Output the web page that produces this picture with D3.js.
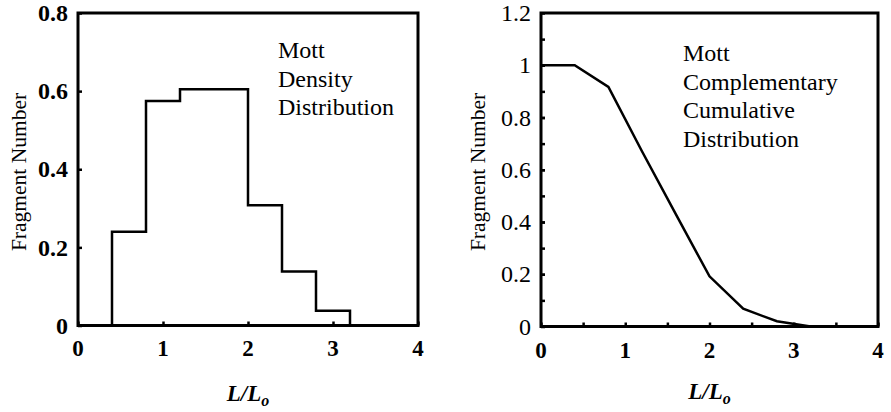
<!DOCTYPE html>
<html>
<head>
<meta charset="utf-8">
<script src="https://cdn.jsdelivr.net/npm/d3@7"></script>
<style>
    body { margin: 0; background: #fff; }
</style>
</head>
<body>
<script>
// histogram bins (left) and complementary cumulative curve (right)
const binEdges = [0.4, 0.8, 1.2, 1.6, 2.0, 2.4, 2.8, 3.2];
const densityValues = [0.24, 0.575, 0.605, 0.605, 0.308, 0.138, 0.038];
const ccdfX = [0, 0.4, 0.8, 1.2, 1.6, 2.0, 2.4, 2.8, 3.2];
const ccdfY = [1, 1, 0.917, 0.67, 0.43, 0.192, 0.068, 0.02, 0];
const leftYTicks = [0, 0.2, 0.4, 0.6, 0.8];
const rightYTicks = [0, 0.2, 0.4, 0.6, 0.8, 1, 1.2];
const xTicks = [0, 1, 2, 3, 4];
const leftNote = ['Mott', 'Density', 'Distribution'];
const rightNote = ['Mott', 'Complementary', 'Cumulative', 'Distribution'];

const svg = d3.select('body').append('svg')
    .attr('width', 891)
    .attr('height', 412);

function label(sel, size, weight, italic) {
    return sel
        .style('font-family', "'Liberation Serif'")
        .style('font-size', size + 'px')
        .style('font-weight', weight || 'normal')
        .style('font-style', italic ? 'italic' : 'normal');
}

function panel(opts) {
    let x = d3.scaleLinear().domain([0, 4]).range([opts.left, opts.right]),
        y = d3.scaleLinear().domain([0, opts.yMax]).range([opts.bottom, opts.top]);

    let g = svg.append('g');

    // minor ticks (inside)
    if (opts.yMinor) {
        g.append('g')
            .attr('transform', `translate(${opts.left},0)`)
            .call(d3.axisLeft(y).tickValues(opts.yMinor).tickSize(-4).tickFormat(''));
    }
    if (opts.xMinor) {
        g.append('g')
            .attr('transform', `translate(0,${opts.bottom})`)
            .call(d3.axisBottom(x).tickValues(opts.xMinor).tickSize(-4).tickFormat(''));
    }

    // main ticks, labels drawn separately as plain text
    g.append('g')
        .attr('transform', `translate(${opts.left},0)`)
        .call(d3.axisLeft(y).tickValues(opts.yTicks).tickSize(-4).tickFormat(''));
    g.append('g')
        .attr('transform', `translate(0,${opts.bottom})`)
        .call(d3.axisBottom(x).tickValues(xTicks).tickSize(-4).tickFormat(''));

    g.selectAll('.tick line').attr('stroke-width', 2.5);
    g.selectAll('.domain').remove();
    g.selectAll('.tick text').remove();

    let fmt = d3.format('~g');
    label(svg.append('g').selectAll('text')
        .data(opts.yTicks)
        .enter()
        .append('text')
        .attr('x', opts.left - 10)
        .attr('y', d => y(d))
        .attr('dy', '0.34em')
        .attr('text-anchor', 'end')
        .text(d => fmt(d)), 24, opts.yBold ? 'bold' : 'normal');

    label(svg.append('g').selectAll('text')
        .data(xTicks)
        .enter()
        .append('text')
        .attr('x', d => x(d))
        .attr('y', opts.bottom + opts.xPad)
        .attr('text-anchor', 'middle')
        .text(d => d), 23, 'bold');

    // frame
    g.append('rect')
        .attr('x', opts.left)
        .attr('y', opts.top)
        .attr('width', opts.right - opts.left)
        .attr('height', opts.bottom - opts.top)
        .attr('fill', 'none')
        .attr('stroke', '#000')
        .attr('stroke-width', 3);

    // axis titles
    label(svg.append('text')
        .attr('transform', `translate(${opts.yTitleX},${opts.yTitleY}) rotate(-90)`)
        .attr('text-anchor', 'middle')
        .text('Fragment Number'), 21.5);

    let xt = label(svg.append('text')
        .attr('x', (opts.left + opts.right) / 2)
        .attr('y', opts.xTitleY)
        .attr('text-anchor', 'middle'), 23, 'bold', true);
    xt.append('tspan').text('L/L');
    xt.append('tspan').style('font-size', '16px').attr('dy', 5).text('o');

    // note
    label(svg.append('g')
        .selectAll('text')
        .data(opts.note)
        .enter()
        .append('text')
        .attr('x', opts.noteX)
        .attr('y', (d, i) => opts.noteY + i * opts.noteStep)
        .text(d => d), 24);

    return {g, x, y};
}

// left: density histogram
let left = panel({
    left: 78, right: 418, top: 13, bottom: 325.5, yMax: 0.8,
    yTicks: leftYTicks, yBold: true, xPad: 30.5,
    yTitleX: 26, yTitleY: 172, xTitleY: 401,
    note: leftNote, noteX: 278, noteY: 58, noteStep: 28.5
});

let bins = densityValues.map((v, i) => ({x0: binEdges[i], x1: binEdges[i + 1], v}));
let stepPts = [[bins[0].x0, 0]];
bins.forEach(b => {
    stepPts.push([b.x0, b.v]);
    stepPts.push([b.x1, b.v]);
});
stepPts.push([bins[bins.length - 1].x1, 0]);

left.g.append('path')
    .datum(stepPts)
    .attr('fill', 'none')
    .attr('stroke', '#000')
    .attr('stroke-width', 2.5)
    .attr('d', d3.line().x(d => left.x(d[0])).y(d => left.y(d[1])));

// right: complementary cumulative
let minorY = d3.range(1, 12).map(i => i / 10);
let right = panel({
    left: 541, right: 878, top: 13, bottom: 326.5, yMax: 1.2,
    yTicks: rightYTicks, yBold: false, yMinor: minorY, xPad: 31.5,
    xMinor: [0.5, 1.5, 2.5, 3.5],
    yTitleX: 485, yTitleY: 172, xTitleY: 399,
    note: rightNote, noteX: 683, noteY: 61, noteStep: 28.7
});

right.g.append('path')
    .datum(ccdfX.map((v, i) => [v, ccdfY[i]]))
    .attr('fill', 'none')
    .attr('stroke', '#000')
    .attr('stroke-width', 2.5)
    .attr('d', d3.line().x(d => right.x(d[0])).y(d => right.y(d[1])));
</script>
</body>
</html>
